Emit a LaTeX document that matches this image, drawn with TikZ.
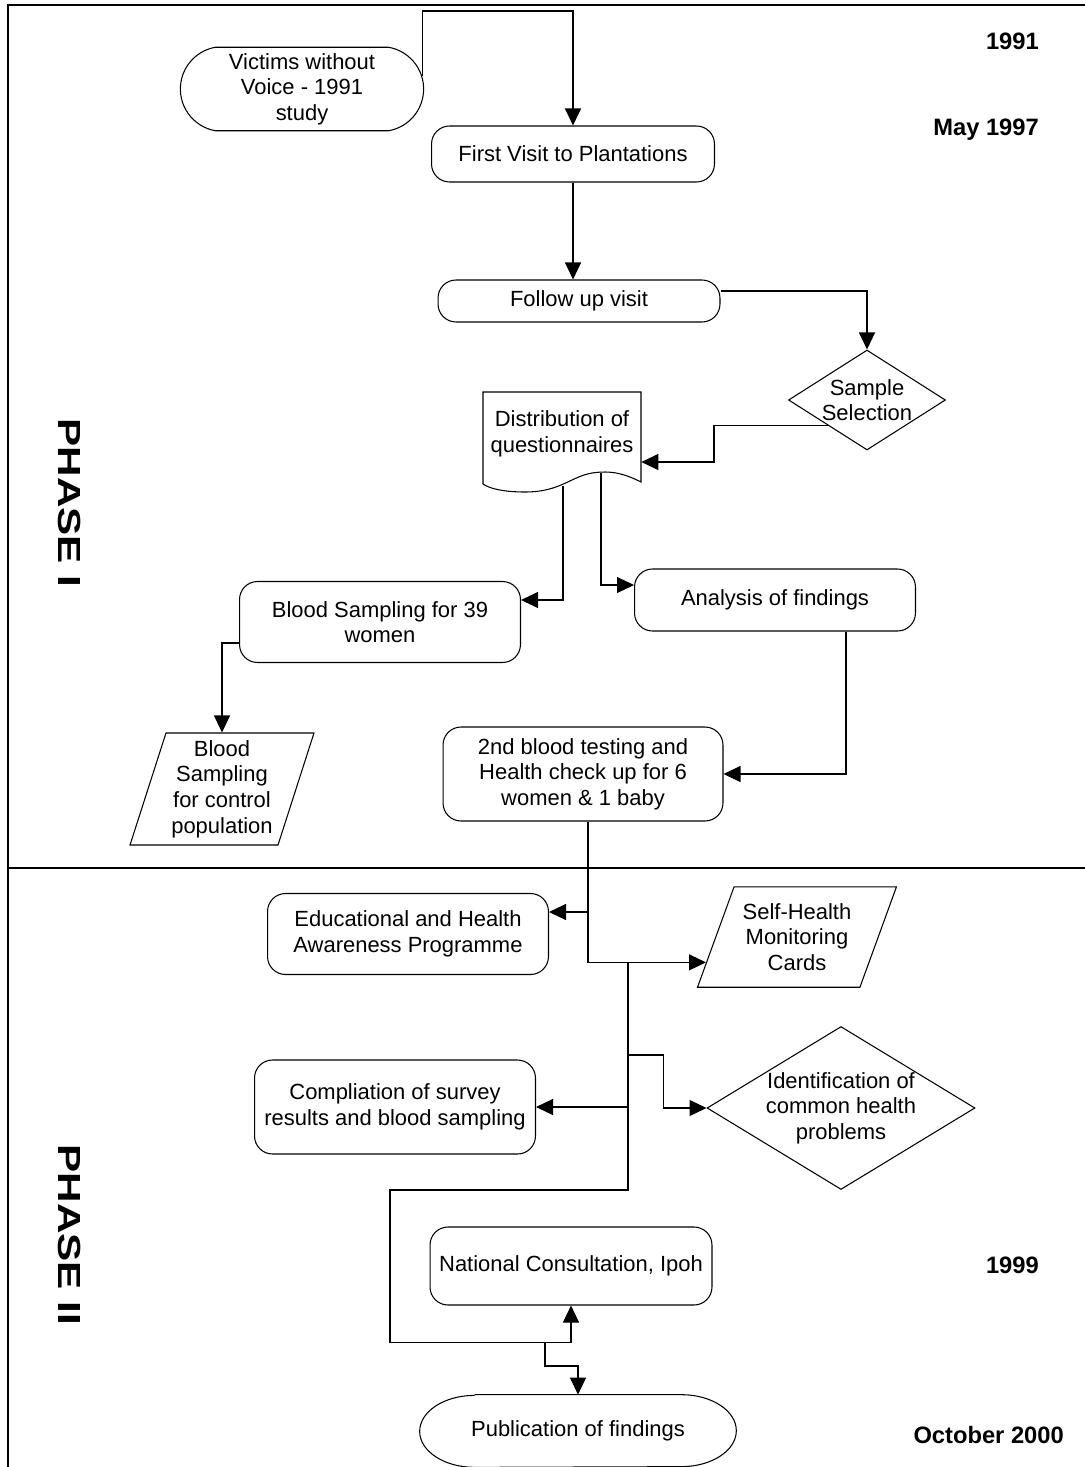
\documentclass[tikz,border=0pt]{standalone}
\usepackage{fontspec}
\setmainfont{Liberation Sans}
\usetikzlibrary{shapes.geometric, shapes.misc, arrows.meta, calc}

\begin{document}
\begin{tikzpicture}[
    x=0.02cm, y=-0.02cm,
    font=\fontsize{12.5}{14.6}\selectfont,
    box/.style={rectangle, draw, line width=0.6pt, rounded corners=0.36cm, align=center},
    term/.style={rounded rectangle, draw, line width=0.6pt, rounded rectangle arc length=160, align=center},
    dia/.style={diamond, draw, line width=0.6pt, inner sep=-3pt, align=center},
    para/.style={trapezium, draw, line width=0.6pt, inner sep=2pt, align=center},
    year/.style={anchor=east, font=\fontsize{13.5}{15}\selectfont\bfseries},
    phase/.style={rotate=-90, font=\fontsize{18.2}{20}\selectfont\bfseries},
    arrow/.style={-{Triangle[length=0.34cm, width=0.32cm]}, line width=0.6pt}
]
\useasboundingbox (0,0) rectangle (1085,1467);

% Frame
\draw[line width=0.6pt] (1085,5) -- (8,5) -- (8,1467);
\draw[line width=0.6pt] (8,868) -- (1085,868);

% Phase labels and dates
\node[phase] (ph1) at (70,503) {\scalebox{1.32}[1]{PHASE I}};
\node[phase] (ph2) at (70,1235) {\scalebox{1.32}[1]{PHASE II}};
\node[year] (y91) at (1045,41) {1991};
\node[year] (y97) at (1045,130) {May 1997};
\node[year] (y99) at (1045,1265) {1999};
\node[year] (y00) at (1070,1435) {October 2000};

% Nodes
\node[term, minimum width=5.1cm, minimum height=1.62cm] (victims) at (302,89) {Victims without\\Voice - 1991\\study};
\node[box, minimum width=5.66cm, minimum height=1.12cm] (first) at (573,154) {First Visit to Plantations};
\node[box, minimum width=5.64cm, minimum height=0.84cm] (follow) at (579,301) {Follow up visit};
\node[dia, aspect=1.57, minimum width=3.14cm, minimum height=2cm] (sample) at (867,400) {Sample\\Selection};
\node[minimum width=3.16cm, minimum height=1.8cm, align=center] (distrib) at (562,434) {Distribution of\\questionnaires};
\draw[line width=0.6pt] (483,484) -- (483,392) -- (641,392) -- (641,482)
    .. controls (625,474) and (612,470) .. (592,473)
    .. controls (570,477) and (560,492) .. (525,492)
    .. controls (505,492) and (490,489) .. (483,484);
\coordinate (dq1) at (563,486);
\coordinate (dq2) at (601,473);
\node[box, minimum width=5.62cm, minimum height=1.62cm] (blood) at (380,622) {Blood Sampling for 39\\women};
\node[box, minimum width=5.62cm, minimum height=1.24cm] (analysis) at (775,600) {Analysis of findings};
\node[para, trapezium left angle=71, trapezium right angle=109, trapezium stretches body, minimum width=3.68cm, minimum height=2.24cm] (control) at (222,789) {Blood\\Sampling\\for control\\population};
\node[box, minimum width=5.6cm, minimum height=1.88cm] (second) at (583,774) {2nd blood testing and\\Health check up for 6\\women \& 1 baby};
\node[box, minimum width=5.62cm, minimum height=1.62cm] (edu) at (408,934) {Educational and Health\\Awareness Programme};
\node[para, trapezium left angle=70, trapezium right angle=110, trapezium stretches body, inner ysep=0.33cm, minimum width=3.98cm] (selfh) at (797,937) {Self-Health\\Monitoring\\Cards};
\node[dia, aspect=1.64, minimum width=5.36cm, minimum height=3.26cm] (ident) at (841,1108) {Identification of\\common health\\problems};
\node[box, minimum width=5.62cm, minimum height=1.88cm] (compil) at (395,1107) {Compliation of survey\\results and blood sampling};
\node[box, minimum width=5.64cm, minimum height=1.56cm] (natl) at (571,1266) {National Consultation, Ipoh};
\node[minimum width=6.32cm, minimum height=1.44cm] (publ) at (578,1431) {Publication of findings};
\draw[line width=0.6pt] ([xshift=1.1cm]publ.north west) -- ([xshift=-1.1cm]publ.north east)
    arc[start angle=90, end angle=-90, x radius=1.1cm, y radius=0.72cm]
    -- ([xshift=1.1cm]publ.south west)
    arc[start angle=270, end angle=90, x radius=1.1cm, y radius=0.72cm];
\coordinate (jt) at (628,962);
\coordinate (j2) at (628,1055);
\coordinate (jp) at (545,1342);

% Arrows
\draw[arrow] (victims.6) -- (victims.6 |- 0,11) -| (first.north);
\draw[arrow] (first.south) -- (first.south |- follow.north);
\draw[arrow] ([yshift=0.2cm]follow.east) -| (sample.north);
\draw[arrow] (sample.south west) -- (sample.south west -| 714,0) |- ([yshift=-0.56cm]distrib.east);
\draw[arrow] (dq1) |- ([yshift=0.44cm]blood.east);
\draw[arrow] (dq2) |- ([yshift=0.3cm]analysis.west);
\draw[arrow] ([yshift=-0.42cm]blood.west) -| (control.north);
\draw[arrow] ([xshift=1.42cm]analysis.south) |- (second.east);
\draw[arrow] ([xshift=0.1cm]second.south) |- ([yshift=0.44cm]edu.east);
\draw[arrow] ([xshift=0.1cm]second.south) |- ($(selfh.bottom left corner)!0.25!(selfh.top left corner)$);
\draw[arrow] (j2) -| ($(ident.west)+(-43,0)$) -- (ident.west);
\draw[arrow] (compil.east -| jt) -- (compil.east);
\draw[arrow] (jt) |- (390,1190) |- ($(natl.south)+(0,37)$) -- (natl.south);
\draw[arrow] (jp) -- ++(0,24) -| (publ.north);

\end{tikzpicture}
\end{document}
